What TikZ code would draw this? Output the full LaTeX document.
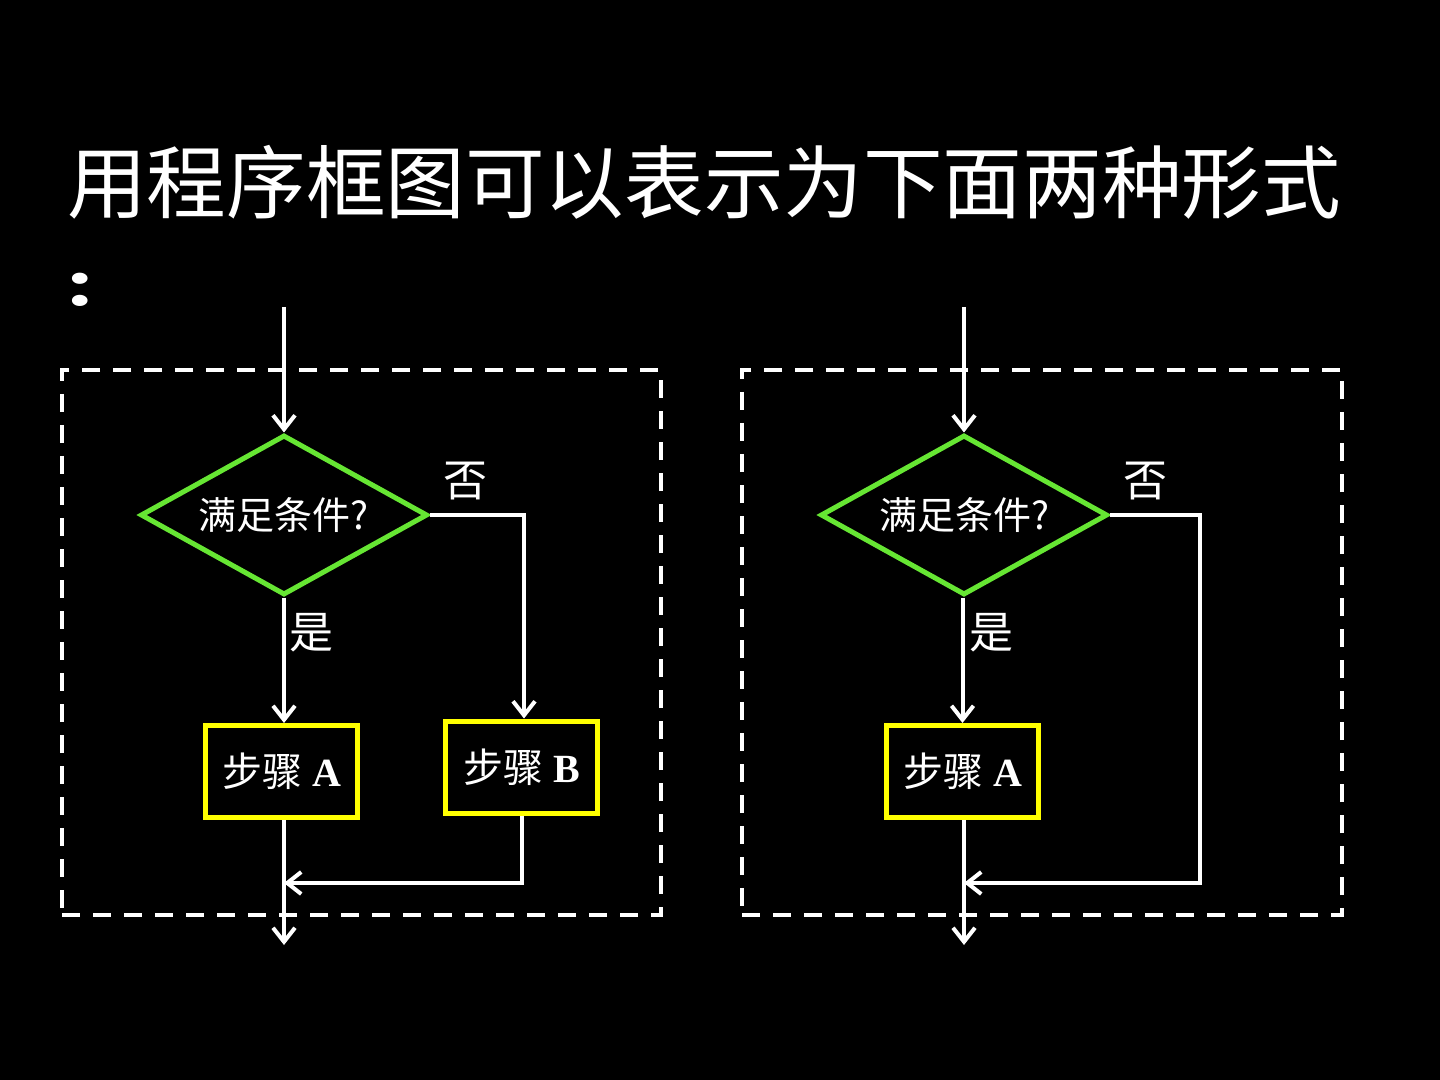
\documentclass[tikz,border=0pt]{standalone}
\usepackage{graphicx}
\usepackage{fontspec}
\setmainfont{Liberation Serif}
\newfontfamily\cjk{Noto Sans CJK SC}
\usetikzlibrary{shapes.geometric,arrows.meta}
\definecolor{dgreen}{RGB}{102,230,51}
\definecolor{byellow}{RGB}{255,255,0}
\tikzset{
  flow/.style={draw=white,line width=2pt,-{Straight Barb[length=7pt,width=11pt,line width=2pt]}},
  frame/.style={draw=white,line width=2pt,dash pattern=on 9pt off 6.5pt},
  decide/.style={shape=diamond,draw=dgreen,line width=2.5pt,inner sep=0pt,aspect=1.79,
     minimum width=143.5pt,minimum height=80pt,text=white,font=\cjk\fontsize{19pt}{21pt}\selectfont},
  stepbox/.style={draw=byellow,line width=2.5pt,minimum width=76pt,minimum height=46pt,inner sep=0pt,
     text=white,font=\fontsize{20pt}{22pt}\selectfont},
  lbl/.style={text=white,inner sep=0pt,font=\cjk\fontsize{22pt}{24pt}\selectfont}
}
\begin{document}
\begin{tikzpicture}[x=0.5pt,y=-0.5pt]
\fill[black] (0,0) rectangle (1440,1080);
\useasboundingbox (0,0) rectangle (1440,1080);
% title
\node[text=white,inner sep=0pt,font=\cjk\fontsize{39.8pt}{42pt}\selectfont] (title) at (704,182) {用程序框图可以表示为下面两种形式};
\node[text=white,inner sep=0pt,font=\bfseries\fontsize{46pt}{48pt}\selectfont] (colon) at (81,290) {\scalebox{1.05}[0.75]{:}};
% ---------- left panel ----------
\node[frame,minimum width=299.5pt,minimum height=272.5pt,inner sep=0pt] (f1) at (361.5,642.5) {};
\coordinate (in1) at (284,307);
\node[decide] (d1) at (284,515) {满足条件?};
\node[stepbox] (a1) at (281.5,771.5) {{\cjk 步骤} \textbf{A}};
\node[stepbox] (b1) at (521.5,767) {{\cjk 步骤} \textbf{B}};
\node[lbl] (no1) at (465,481) {否};
\node[lbl] (yes1) at (311,633) {是};
\coordinate (j1) at (284,883);
\coordinate (out1) at (284,945);
\draw[flow] (in1) -- (d1.north);
\draw[flow] (d1.east) -- (524,515) -- (b1.north -| 524,0);
\draw[flow] (d1.south) -- (a1.north -| d1.south);
\draw[flow] (b1.south) |- (j1);
\draw[flow] (a1.south -| out1) -- (out1);
% ---------- right panel ----------
\node[frame,minimum width=300pt,minimum height=272.5pt,inner sep=0pt] (f2) at (1042,642.5) {};
\coordinate (in2) at (964,307);
\node[decide] (d2) at (964,515) {满足条件?};
\node[stepbox] (a2) at (962.5,771.5) {{\cjk 步骤} \textbf{A}};
\node[lbl] (no2) at (1145,481) {否};
\node[lbl] (yes2) at (991,633) {是};
\coordinate (r2) at (1200,515);
\coordinate (j2) at (964,883);
\coordinate (out2) at (964,945);
\draw[flow] (in2) -- (d2.north);
\draw[flow] (d2.south -| a2.north) -- (a2.north);
\draw[flow] (d2.east) -- (r2) |- (j2);
\draw[flow] (a2.south -| out2) -- (out2);
\end{tikzpicture}
\end{document}
